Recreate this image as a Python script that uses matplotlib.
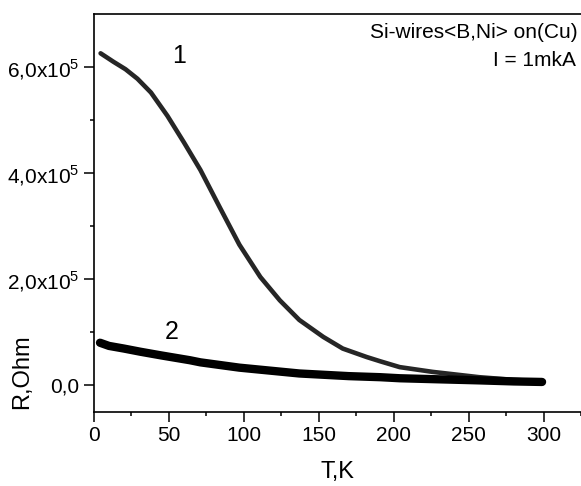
import matplotlib
matplotlib.use("Agg")
import matplotlib.pyplot as plt
from matplotlib.ticker import MultipleLocator, FixedLocator, FixedFormatter

plt.rcParams['font.family'] = ['Liberation Sans', 'DejaVu Sans']
plt.rcParams['mathtext.fontset'] = 'custom'
plt.rcParams['mathtext.rm'] = 'Liberation Sans'

# curve 1 (upper)
t1 = [4.4, 13, 21, 29, 38, 49, 60, 71, 84, 97, 111, 124, 137, 153, 166, 182, 191, 204, 226, 257, 280, 300]
r1 = [626e3, 610e3, 596e3, 578e3, 552e3, 508e3, 458e3, 406e3, 335e3, 265e3, 204e3, 160e3, 123e3, 91e3, 69e3, 53e3, 45e3, 34e3, 25e3, 15e3, 10e3, 7e3]

# curve 2 (lower)
t2 = [4, 10, 20, 31, 45, 64, 71, 97, 137, 170, 191, 204, 230, 257, 280, 299]
r2 = [80e3, 74e3, 69e3, 63e3, 56e3, 47e3, 43e3, 33e3, 22e3, 17e3, 15e3, 13e3, 11e3, 9e3, 7e3, 6e3]

y_ticks = [0, 2e5, 4e5, 6e5]
y_labels = ['0,0', r'2,0x10$^5$', r'4,0x10$^5$', r'6,0x10$^5$']

fig = plt.figure(figsize=(5.81, 4.86), dpi=100)
ax = fig.add_axes([0.1618, 0.153, 0.8382, 0.818])

ax.plot(t1, r1, color='#262626', lw=3.3, solid_capstyle='round', solid_joinstyle='round')
ax.plot(t2, r2, color='black', lw=6, solid_capstyle='round', solid_joinstyle='round')

ax.set_xlim(0, 325)
ax.set_ylim(-5e4, 7e5)
ax.xaxis.set_major_locator(MultipleLocator(50))
ax.xaxis.set_minor_locator(MultipleLocator(25))
ax.yaxis.set_major_locator(FixedLocator(y_ticks))
ax.yaxis.set_major_formatter(FixedFormatter(y_labels))
ax.yaxis.set_minor_locator(FixedLocator([1e5, 3e5, 5e5]))

ax.spines['right'].set_visible(False)
for s in ['left', 'top', 'bottom']:
    ax.spines[s].set_linewidth(1.2)
ax.tick_params(which='major', direction='out', length=7, width=1.1, labelsize=15, top=False, right=False)
ax.tick_params(which='minor', direction='out', length=3, width=1.1, top=False, right=False)

ax.set_xlabel('T,K', fontsize=17, labelpad=11)
fig.text(22 / 581, 1 - 372 / 486, 'R,Ohm', rotation=90, ha='center', va='center', fontsize=17)

ax.text(52, 6.07e5, '1', fontsize=18, va='baseline')
ax.text(47, 8.7e4, '2', fontsize=18, va='baseline')
ax.text(0.993, 0.978, 'Si-wires<B,Ni> on(Cu)', transform=ax.transAxes, ha='right', va='top', fontsize=15)
ax.text(0.99, 0.908, 'I = 1mkA', transform=ax.transAxes, ha='right', va='top', fontsize=15)

fig.savefig('out.png', dpi=100)
